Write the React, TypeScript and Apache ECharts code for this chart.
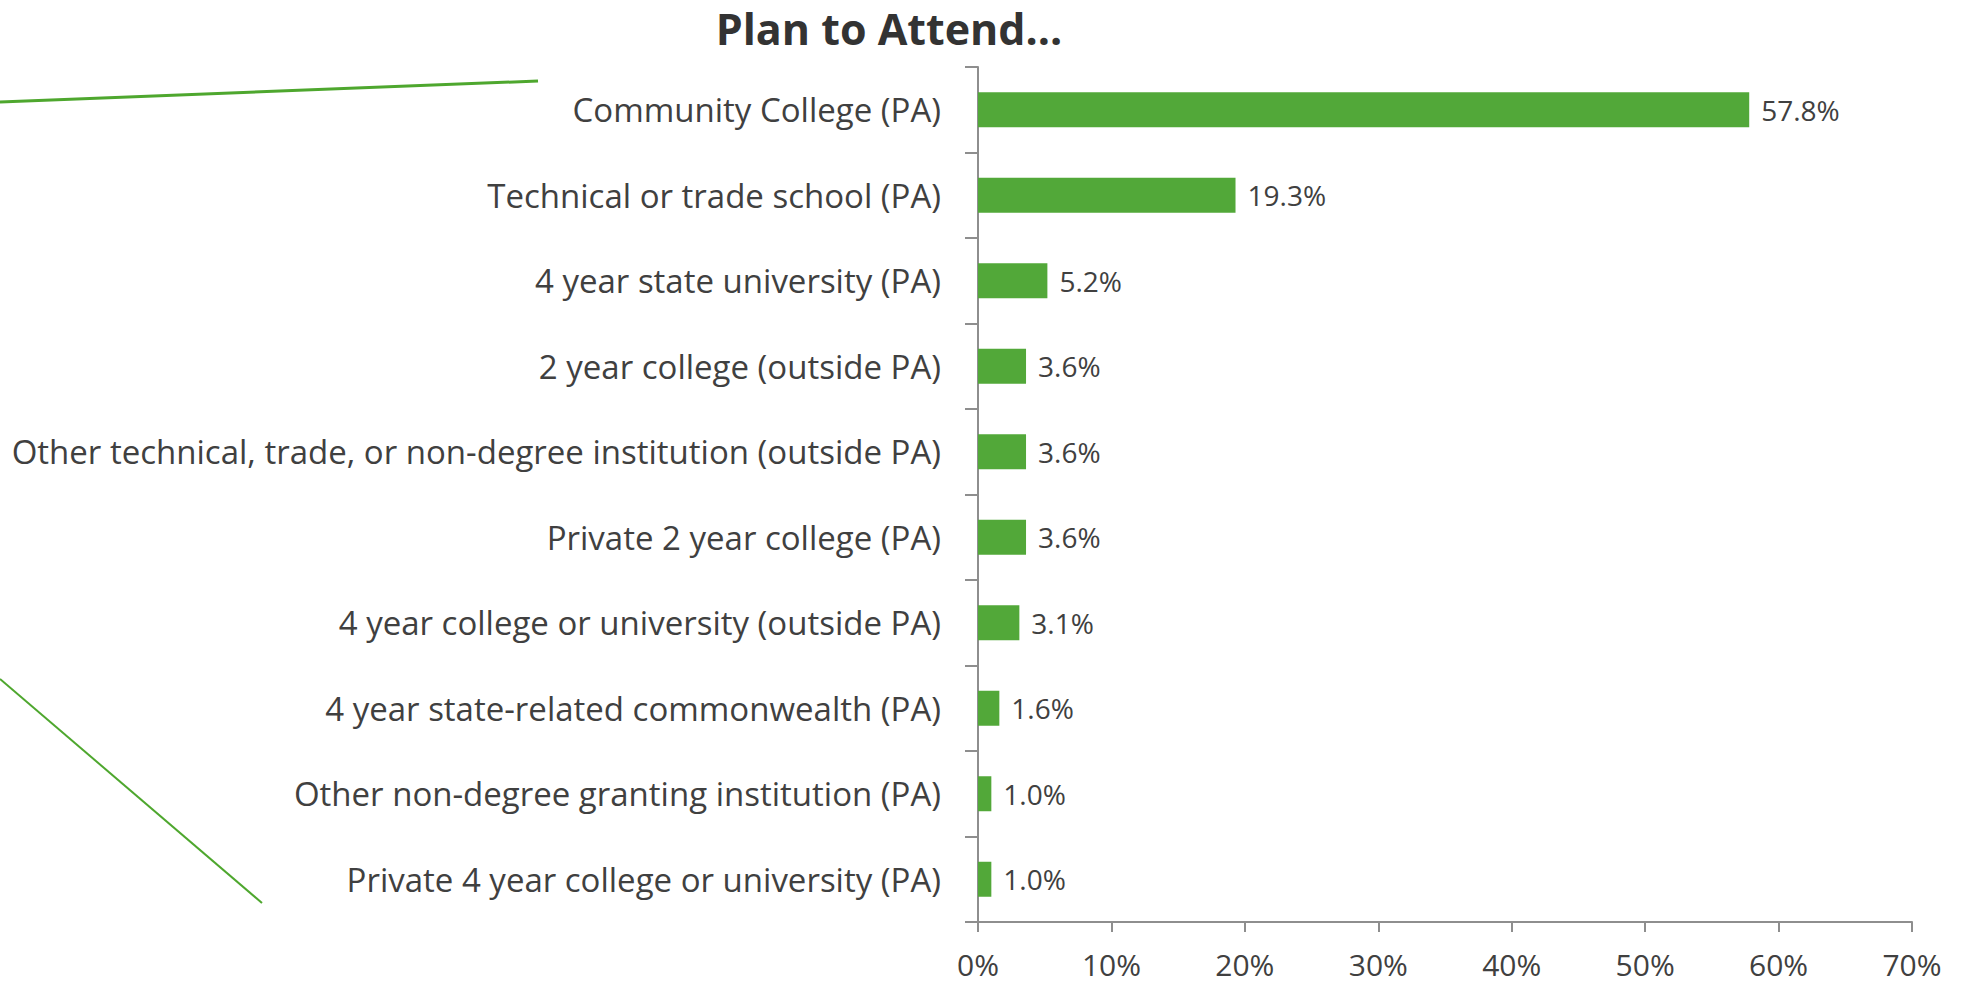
import React, { useEffect, useRef } from "react";
import * as echarts from "echarts";

const categories = [
  "Community College (PA)",
  "Technical or trade school (PA)",
  "4 year state university (PA)",
  "2 year college (outside PA)",
  "Other technical, trade, or non-degree institution (outside PA)",
  "Private 2 year college (PA)",
  "4 year college or university (outside PA)",
  "4 year state-related commonwealth (PA)",
  "Other non-degree granting institution (PA)",
  "Private 4 year college or university (PA)",
];
const values = [57.8, 19.3, 5.2, 3.6, 3.6, 3.6, 3.1, 1.6, 1.0, 1.0];
const titleText = "Plan to Attend…";
const xMin = 0;
const xMax = 70;
const xInterval = 10;

const GREEN = "#52A839";
const TEXT = "#404040";
const AXIS = "#8E8E8E";
const FONT = "'Open Sans', 'Noto Sans', sans-serif";

export default function App() {
  const ref = useRef<HTMLDivElement>(null);
  useEffect(() => {
    document.body.style.margin = "0";
    if (!ref.current) return;
    const chart = echarts.init(ref.current, null, { renderer: "svg" });
    chart.setOption({
      animation: false,
      backgroundColor: "#ffffff",
      textStyle: { fontFamily: FONT },
      grid: { left: 978, right: 60, top: 67, bottom: 62, containLabel: false },
      xAxis: {
        type: "value",
        min: xMin,
        max: xMax,
        interval: xInterval,
        splitLine: { show: false },
        axisLine: { show: true, lineStyle: { color: AXIS, width: 2 } },
        axisTick: { show: true, length: 10, lineStyle: { color: AXIS, width: 2 } },
        axisLabel: {
          formatter: "{value}%",
          fontSize: 30,
          lineHeight: 30,
          color: TEXT,
          fontFamily: FONT,
          margin: 27,
        },
      },
      yAxis: {
        type: "category",
        inverse: true,
        data: categories,
        axisLine: { show: true, lineStyle: { color: AXIS, width: 2 } },
        axisTick: { show: true, length: 13, alignWithLabel: false, lineStyle: { color: AXIS, width: 2 } },
        axisLabel: { fontSize: 33, color: TEXT, fontFamily: FONT, margin: 37 },
        splitLine: { show: false },
      },
      series: [
        {
          type: "bar",
          data: values,
          barWidth: 35,
          itemStyle: { color: GREEN },
          label: {
            show: true,
            position: "right",
            distance: 12,
            fontSize: 28,
            color: TEXT,
            fontFamily: FONT,
            formatter: (p: any) => Number(p.value).toFixed(1) + "%",
          },
        },
      ],
      graphic: [
        {
          type: "text",
          x: 889,
          y: 28,
          style: {
            text: titleText,
            fill: "#333333",
            font: `bold 43px ${FONT}`,
            textAlign: "center",
            textVerticalAlign: "middle",
          },
        },
        {
          type: "line",
          shape: { x1: 0, y1: 102, x2: 538, y2: 81 },
          style: { stroke: "#4EA72E", lineWidth: 3 },
        },
        {
          type: "line",
          shape: { x1: 0, y1: 679, x2: 262, y2: 903 },
          style: { stroke: "#4EA72E", lineWidth: 2 },
        },
      ],
    });
    return () => chart.dispose();
  }, []);
  return (
    <div
      ref={ref}
      style={{ position: "absolute", left: 0, top: 0, width: 1972, height: 984 }}
    />
  );
}
